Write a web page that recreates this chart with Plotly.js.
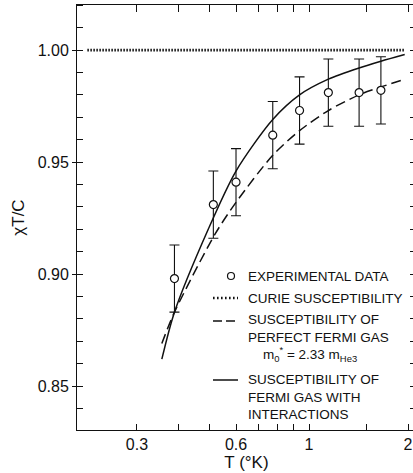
<!DOCTYPE html>
<html>
<head>
<meta charset="utf-8">
<script src="https://cdn.plot.ly/plotly-3.0.1.min.js"></script>
<style>
html,body{margin:0;padding:0;overflow:hidden;background:#fff;}
#chart{width:419px;height:473px;}
</style>
</head>
<body>
<div id="chart"></div>
<script>
// ---- data ----
const expT   = [0.390, 0.512, 0.600, 0.776, 0.936, 1.145, 1.420, 1.654];
const expChi = [0.898, 0.931, 0.941, 0.962, 0.973, 0.981, 0.981, 0.982];
const expErr = [0.015, 0.015, 0.015, 0.015, 0.015, 0.015, 0.015, 0.015];

const curieT   = [0.212, 1.954];
const curieChi = [1.000, 1.000];

const fermiT   = [0.357, 0.390, 0.519, 0.600, 0.776, 0.936, 1.145, 1.420, 1.654, 1.954];
const fermiChi = [0.869, 0.883, 0.918, 0.932, 0.953, 0.964, 0.973, 0.980, 0.9835, 0.987];

const interT   = [0.357, 0.390, 0.494, 0.600, 0.776, 0.936, 1.145, 1.420, 1.654, 1.954];
const interChi = [0.862, 0.883, 0.920, 0.946, 0.969, 0.980, 0.987, 0.992, 0.995, 0.998];

const xLabelVals = [0.3, 0.6, 1, 2];
const xLabelText = ['0.3', '0.6', '1', '2'];
const xTickVals  = [0.3, 0.4, 0.5, 0.6, 0.7, 0.8, 0.9, 1, 1.5, 2];

const legendTexts = [
  'EXPERIMENTAL DATA',
  'CURIE SUSCEPTIBILITY',
  'SUSCEPTIBILITY OF<br>PERFECT FERMI GAS<br>&nbsp;&nbsp;&nbsp;&nbsp;m<sub>0</sub><sup>*</sup> = 2.33 m<sub>He3</sub>',
  'SUSCEPTIBILITY OF<br>FERMI GAS WITH<br>INTERACTIONS'
];

// ---- styling ----
const INK = '#111';
const FONT = "'Liberation Sans', Arial, Helvetica, sans-serif";

// plot area in pixels (for paper-coordinate decorations)
const L = 77, T = 5, PW = 339, PH = 425;
const px = v => (v - L) / PW;
const py = v => (T + PH - v) / PH;

const xRange = [-0.70517, 0.32523];
const yRange = [0.8304, 1.0201];

const traces = [
  {x: curieT, y: curieChi, mode: 'lines', line: {color: INK, width: 2.8, dash: '1.5px,1.5px'}, hoverinfo: 'skip'},
  {x: fermiT, y: fermiChi, mode: 'lines', line: {color: INK, width: 1.5, dash: '10px,5px', shape: 'spline', smoothing: 0.8}, hoverinfo: 'skip'},
  {x: interT, y: interChi, mode: 'lines', line: {color: INK, width: 1.5, shape: 'spline', smoothing: 0.8}, hoverinfo: 'skip'},
  {x: expT, y: expChi, mode: 'markers',
   marker: {symbol: 'circle', size: 8, color: '#fff', line: {color: INK, width: 1.2}},
   error_y: {type: 'data', array: expErr, visible: true, color: INK, thickness: 1.1, width: 5},
   hoverinfo: 'skip'},
  // carriers for the frame axes (top / right / bottom minor ticks)
  {x: curieT, y: curieChi, xaxis: 'x2', yaxis: 'y2', mode: 'lines', line: {width: 0}, opacity: 0, hoverinfo: 'skip'},
  {x: curieT, y: curieChi, xaxis: 'x3', yaxis: 'y2', mode: 'lines', line: {width: 0}, opacity: 0, hoverinfo: 'skip'}
];

const legendY = [276, 298, 338.3, 397.3];
const annotations = legendTexts.map((t, i) => ({
  xref: 'paper', yref: 'paper',
  x: px(246), y: py(legendY[i]),
  xanchor: 'left', yanchor: 'middle', align: 'left',
  text: t, showarrow: false,
  font: {family: FONT, size: 13.5, color: INK}
}));

const shapes = [
  // legend samples
  {type: 'circle', xref: 'paper', yref: 'paper', xsizemode: 'pixel', ysizemode: 'pixel',
   xanchor: px(231), yanchor: py(276), x0: -3.5, x1: 3.5, y0: -3.5, y1: 3.5,
   line: {color: INK, width: 1.2}, fillcolor: '#fff'},
  {type: 'line', xref: 'paper', yref: 'paper', x0: px(213), x1: px(238), y0: py(298), y1: py(298),
   line: {color: INK, width: 2.4, dash: '1.6px,2.4px'}},
  {type: 'line', xref: 'paper', yref: 'paper', x0: px(213), x1: px(238), y0: py(321), y1: py(321),
   line: {color: INK, width: 1.5, dash: '9px,4px'}},
  {type: 'line', xref: 'paper', yref: 'paper', x0: px(213), x1: px(238), y0: py(380), y1: py(380),
   line: {color: INK, width: 1.5}}
];

const frameAxis = {showgrid: false, zeroline: false, showline: true, linecolor: INK, linewidth: 1, tickcolor: INK, tickwidth: 1};

const layout = {
  width: 419, height: 473,
  margin: {l: 77, r: 3, t: 5, b: 43},
  paper_bgcolor: '#fff', plot_bgcolor: '#fff',
  showlegend: false,
  font: {family: FONT, size: 16, color: INK},
  xaxis: Object.assign({}, frameAxis, {
    type: 'log', range: xRange, tickmode: 'array', tickvals: xLabelVals, ticktext: xLabelText,
    ticks: 'inside', ticklen: 6,
    tickfont: {family: FONT, size: 16, color: INK},
    title: {text: 'T (°K)', font: {family: FONT, size: 17, color: INK}, standoff: 2}
  }),
  xaxis3: Object.assign({}, frameAxis, {
    type: 'log', range: xRange, overlaying: 'x', side: 'bottom', tickmode: 'array', tickvals: xTickVals,
    ticks: 'inside', ticklen: 6, showticklabels: false, showline: false
  }),
  xaxis2: Object.assign({}, frameAxis, {
    type: 'log', range: xRange, overlaying: 'x', side: 'top', tickmode: 'array', tickvals: xTickVals,
    ticks: 'inside', ticklen: 7, showticklabels: false
  }),
  yaxis: Object.assign({}, frameAxis, {
    range: yRange, tick0: 0.85, dtick: 0.05, tickformat: '.2f',
    ticks: 'outside', ticklen: 4,
    minor: {tick0: 0.85, dtick: 0.01, ticks: 'inside', ticklen: 6, tickcolor: INK, showgrid: false},
    tickfont: {family: FONT, size: 16, color: INK},
    title: {text: 'χT/C', font: {family: FONT, size: 17, color: INK}, standoff: 8}
  }),
  yaxis2: Object.assign({}, frameAxis, {
    range: yRange, overlaying: 'y', side: 'right', tick0: 0.85, dtick: 0.01,
    ticks: 'inside', ticklen: 6, showticklabels: false
  }),
  annotations: annotations,
  shapes: shapes
};

Plotly.newPlot('chart', traces, layout, {staticPlot: true, displayModeBar: false});
</script>
</body>
</html>
